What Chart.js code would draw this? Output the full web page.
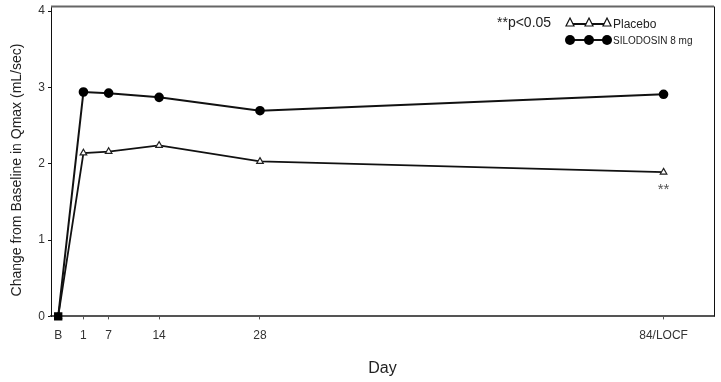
<!DOCTYPE html>
<html>
<head>
<meta charset="utf-8">
<script src="https://cdn.jsdelivr.net/npm/chart.js@4.4.1/dist/chart.umd.min.js"></script>
<style>
  html, body { margin: 0; padding: 0; background: #fff; }
  #wrap { width: 721px; height: 382px; }
</style>
</head>
<body>
<div id="wrap"><canvas id="qmax"></canvas></div>
<script>
// tick labels and where they sit on the day axis (B and day 1 are spread out in the original)
const dayLabels = ['B', '1', '7', '14', '28', '84/LOCF'];
const dayPos = [0, 3.5, 7, 14, 28, 84];
const yTicks = [0, 1, 2, 3, 4];

// change from baseline in Qmax (mL/sec)
const placebo = [0, 2.14, 2.16, 2.24, 2.03, 1.89];
const silodosin = [0, 2.94, 2.925, 2.87, 2.695, 2.91];

const toPoints = vals => vals.map((v, i) => ({ x: dayPos[i], y: v }));
const FONT = '"Liberation Sans", Arial, sans-serif';

// legend + frame + significance marks + y title
const extras = {
  id: 'extras',
  afterDraw(chart) {
    const c = chart.ctx;
    const a = chart.chartArea;
    c.save();
    // top and right of the box
    c.strokeStyle = '#666';
    c.lineWidth = 2;
    c.beginPath();
    c.moveTo(a.left, a.top);
    c.lineTo(a.right, a.top);
    c.stroke();
    c.strokeStyle = '#111';
    c.lineWidth = 1;
    c.beginPath();
    c.moveTo(a.right + 0.5, a.top);
    c.lineTo(a.right + 0.5, a.bottom);
    c.stroke();

    // y title, a bit below the middle like the original
    c.save();
    c.translate(17, 170);
    c.rotate(-Math.PI / 2);
    c.textAlign = 'center';
    c.textBaseline = 'middle';
    c.fillStyle = '#222';
    c.font = '14px ' + FONT;
    c.fillText('Change from Baseline in Qmax (mL/sec)', 0, 0);
    c.restore();

    c.fillStyle = '#222';
    c.textBaseline = 'middle';
    c.font = '14px ' + FONT;
    c.fillText('**p<0.05', 497, 23);

    // placebo legend line
    c.strokeStyle = '#111';
    c.lineWidth = 2;
    c.beginPath();
    c.moveTo(569, 24);
    c.lineTo(610, 24);
    c.stroke();
    [570, 589, 607].forEach(x => {
      c.beginPath();
      c.moveTo(x, 18);
      c.lineTo(x + 4, 26);
      c.lineTo(x - 4, 26);
      c.closePath();
      c.fillStyle = '#fff';
      c.fill();
      c.lineWidth = 1.2;
      c.stroke();
    });
    c.fillStyle = '#222';
    c.font = '12px ' + FONT;
    c.fillText('Placebo', 613, 25);

    // silodosin legend line
    c.lineWidth = 2;
    c.beginPath();
    c.moveTo(569, 40);
    c.lineTo(607, 40);
    c.stroke();
    c.fillStyle = '#000';
    [570, 589, 607].forEach(x => {
      c.beginPath();
      c.arc(x, 40, 5, 0, Math.PI * 2);
      c.fill();
    });
    c.fillStyle = '#222';
    c.font = '10px ' + FONT;
    c.fillText('SILODOSIN 8 mg', 613, 41);

    // ** under the last placebo point
    const xs = chart.scales.x, ys = chart.scales.y;
    c.font = '15px ' + FONT;
    c.fillStyle = '#555';
    c.textAlign = 'center';
    c.fillText('**', xs.getPixelForValue(dayPos[5]), ys.getPixelForValue(placebo[5]) + 18);
    c.restore();
  }
};

const ctx = document.getElementById('qmax').getContext('2d');
new Chart(ctx, {
  type: 'line',
  data: {
    datasets: [
      {
        label: 'Placebo',
        data: toPoints(placebo),
        order: 1,
        borderColor: '#111',
        borderWidth: 1.8,
        pointStyle: 'triangle',
        pointRadius: 3.8,
        pointBackgroundColor: '#fff',
        pointBorderColor: '#222',
        pointBorderWidth: 1.2,
        clip: false
      },
      {
        label: 'SILODOSIN 8 mg',
        data: toPoints(silodosin),
        order: 0,
        borderColor: '#111',
        borderWidth: 2,
        pointStyle: ['rect', 'circle', 'circle', 'circle', 'circle', 'circle'],
        pointRadius: [4.5, 3.8, 3.8, 3.8, 3.8, 3.8],
        pointBackgroundColor: '#000',
        pointBorderColor: '#000',
        clip: false
      }
    ]
  },
  options: {
    responsive: true,
    maintainAspectRatio: false,
    animation: false,
    layout: { padding: { top: 6, right: 7, bottom: 4, left: 0 } },
    plugins: {
      legend: { display: false },
      tooltip: { enabled: false }
    },
    scales: {
      x: {
        type: 'linear',
        min: -1,
        max: 91,
        afterBuildTicks: s => { s.ticks = dayPos.map(v => ({ value: v })); },
        grid: { drawOnChartArea: false, tickLength: 3, color: '#555' },
        border: { color: '#555', width: 2 },
        ticks: {
          autoSkip: false,
          maxRotation: 0,
          padding: 9,
          color: '#333',
          font: { family: FONT, size: 12 },
          callback: (v, i) => dayLabels[i]
        },
        title: {
          display: true,
          text: 'Day',
          color: '#222',
          padding: { top: 7, bottom: 0 },
          font: { family: FONT, size: 16 }
        }
      },
      y: {
        min: 0,
        max: 4.06,
        afterBuildTicks: s => { s.ticks = yTicks.map(v => ({ value: v })); },
        afterFit: s => { s.width = 51; s.paddingTop = 0; s.paddingBottom = 0; },
        grid: { drawOnChartArea: false, tickLength: 3, color: '#111' },
        border: { color: '#111', width: 1 },
        ticks: {
          padding: 3,
          color: '#333',
          font: { family: FONT, size: 12 }
        }
      }
    }
  },
  plugins: [extras]
});
</script>
</body>
</html>
